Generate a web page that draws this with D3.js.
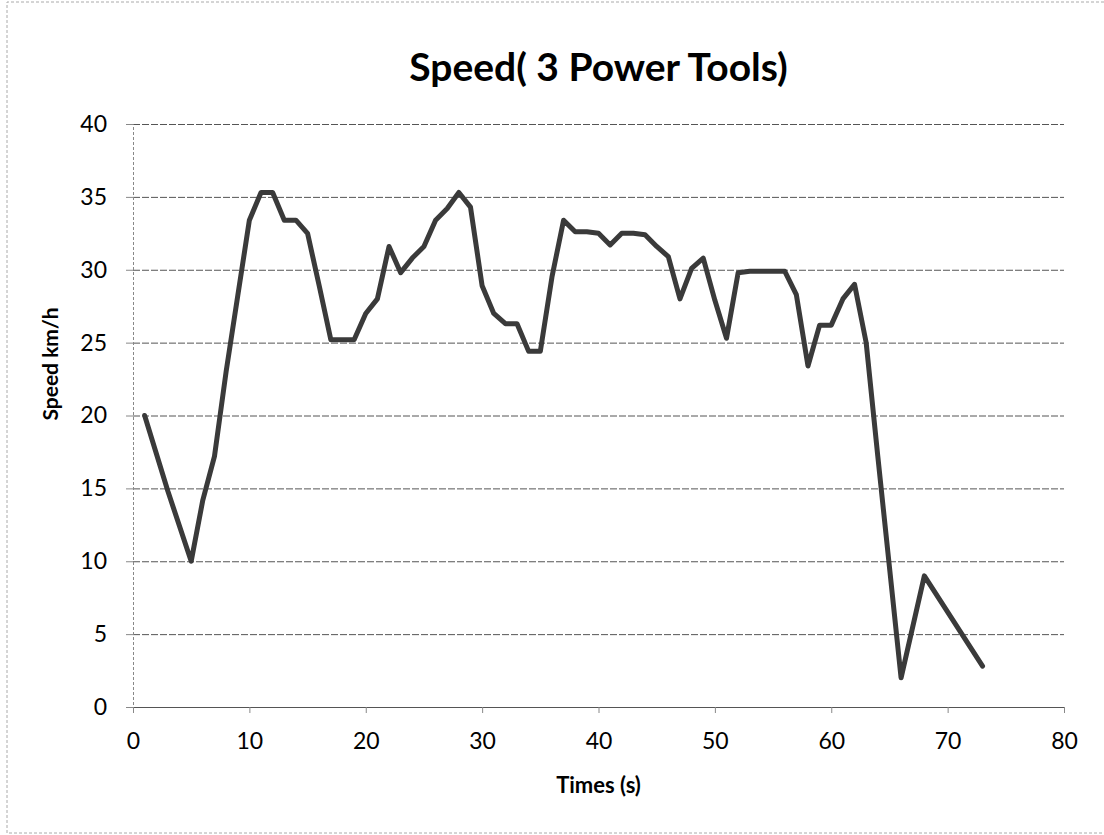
<!DOCTYPE html>
<html>
<head>
<meta charset="utf-8">
<script src="https://cdn.jsdelivr.net/npm/d3@7"></script>
<style>
  body { margin: 0; background: #fff; }
  svg { display: block; }
</style>
</head>
<body>
<script>
// seconds and speed
var times = [1, 3, 5, 6, 7, 8, 9, 10, 11, 12, 13, 14, 15, 16, 17, 18, 19, 20,
             21, 22, 23, 24, 25, 26, 27, 28, 29, 30, 31, 32, 33, 34, 35, 36, 37, 38, 39, 40,
             41, 42, 43, 44, 45, 46, 47, 48, 49, 50, 51, 52, 53, 54, 55, 56, 57, 58, 59, 60,
             61, 62, 63, 64, 65, 66, 68, 73];
var speeds = [20, 14.8, 10, 14.2, 17.2, 23, 28.2, 33.4, 35.3, 35.3, 33.4, 33.4, 32.5, 28.9, 25.2, 25.2, 25.2, 27,
              28, 31.6, 29.8, 30.8, 31.6, 33.4, 34.2, 35.3, 34.3, 28.9, 27, 26.3, 26.3, 24.4, 24.4, 29.5, 33.4, 32.6, 32.6, 32.5,
              31.7, 32.5, 32.5, 32.4, 31.6, 30.9, 28, 30.1, 30.8, 27.9, 25.3, 29.8, 29.9, 29.9, 29.9, 29.9, 28.3, 23.4, 26.2, 26.2,
              28, 29, 25, 17.2, 9.6, 2, 9, 2.8];
var xTicks = [0, 10, 20, 30, 40, 50, 60, 70, 80];
var yTicks = [0, 5, 10, 15, 20, 25, 30, 35, 40];

var chartTitle = "Speed( 3 Power Tools)";
var xTitle = "Times (s)";
var yTitle = "Speed km/h";

var W = 1104, H = 835;
var margin = {top: 124, right: 40, bottom: 128, left: 133};
var w = W - margin.left - margin.right;
var h = H - margin.top - margin.bottom;
var font = "Lato, 'Open Sans', sans-serif";

var svg = d3.select("body").append("svg")
    .attr("width", W)
    .attr("height", H);

// outer frame, only left / top / bottom show in the scan
svg.append("path")
    .attr("d", "M1104,2 H7 V833 H1104")
    .attr("fill", "none")
    .attr("stroke", "#aaa")
    .attr("stroke-dasharray", "3,2");

var x = d3.scaleLinear().domain([0, 80]).range([0, w]);
var y = d3.scaleLinear().domain([0, 40]).range([h, 0]);

var g = svg.append("g")
    .attr("transform", "translate(" + margin.left + "," + margin.top + ")");

// gridlines
g.append("g")
    .call(d3.axisLeft(y).tickValues(yTicks).tickSize(-w).tickFormat(""))
    .call(function(s) {
        s.select(".domain").remove();
        s.selectAll("line")
            .attr("stroke", "#555")
            .attr("stroke-dasharray", "7,2");
    });

// y axis
g.append("g")
    .call(d3.axisLeft(y).tickValues(yTicks).tickSize(7).tickPadding(19))
    .call(function(s) {
        s.select(".domain").attr("stroke", "#888").attr("stroke-dasharray", "3,2");
        s.selectAll("line").attr("stroke", "#888");
        s.selectAll("text")
            .attr("font-family", font)
            .attr("font-size", "23px")
            .attr("fill", "#000");
    });

// x axis
g.append("g")
    .attr("transform", "translate(0," + h + ")")
    .call(d3.axisBottom(x).tickValues(xTicks).tickSize(6).tickPadding(20))
    .call(function(s) {
        s.select(".domain").attr("stroke", "#555").attr("stroke-dasharray", "7,2");
        s.selectAll("line").attr("stroke", "#888");
        s.selectAll("text")
            .attr("font-family", font)
            .attr("font-size", "23px")
            .attr("fill", "#000");
    });

var line = d3.line()
    .x(function(d, i) { return x(times[i]); })
    .y(function(d) { return y(d); });

g.append("path")
    .datum(speeds)
    .attr("d", line)
    .attr("fill", "none")
    .attr("stroke", "#3a3a3a")
    .attr("stroke-width", 5)
    .attr("stroke-linejoin", "round")
    .attr("stroke-linecap", "round");

// titles
svg.append("text")
    .attr("x", margin.left + w / 2)
    .attr("y", 81)
    .attr("text-anchor", "middle")
    .attr("font-family", font)
    .attr("font-weight", "bold")
    .attr("font-size", "39px")
    .text(chartTitle);

svg.append("text")
    .attr("x", margin.left + w / 2)
    .attr("y", 793)
    .attr("text-anchor", "middle")
    .attr("font-family", font)
    .attr("font-weight", "bold")
    .attr("font-size", "22px")
    .text(xTitle);

svg.append("text")
    .attr("transform", "translate(58,364) rotate(-90)")
    .attr("text-anchor", "middle")
    .attr("font-family", font)
    .attr("font-weight", "bold")
    .attr("font-size", "21px")
    .text(yTitle);
</script>
</body>
</html>
